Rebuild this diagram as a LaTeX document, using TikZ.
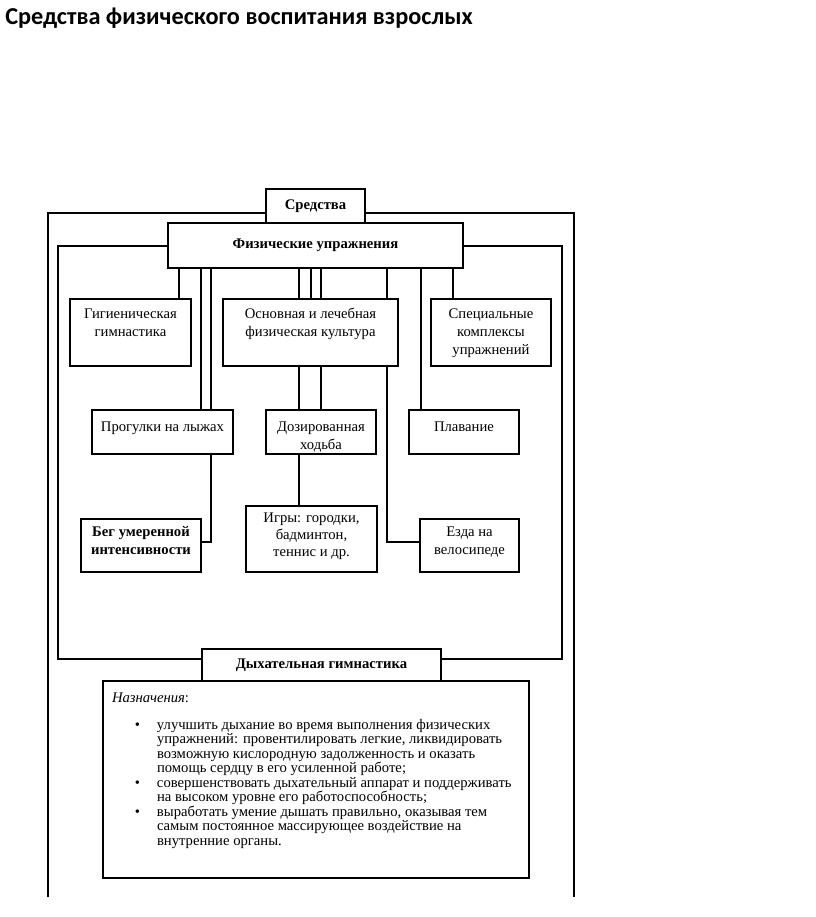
\documentclass[tikz,border=0pt]{standalone}
\usepackage{fontspec}
\setmainfont{Liberation Serif}
\newfontfamily\titlefont{Carlito}
\usetikzlibrary{calc}
\newlength\pxu
\setlength\pxu{0.75pt}
% box text: width, height (px), top gap, text
\newcommand{\bxtext}[4]{\parbox[c][#2\pxu][t]{#1\pxu}{\centering\vspace*{#3}\strut #4\par}}
\tikzset{
  box/.style={draw, line width=1pt, fill=white, inner sep=0pt, outer sep=0pt, anchor=north west,
              font=\fontsize{11}{13.5}\selectfont},
  headbox/.style={draw, line width=1pt, fill=white, inner sep=0pt, outer sep=0pt, anchor=north west,
              font=\fontsize{11}{13.5}\selectfont\bfseries},
  link/.style={line width=1pt},
}
\begin{document}
\begin{tikzpicture}[x=0.75pt,y=-0.75pt]
\path[fill=white] (0,0) rectangle (816,917);

% title
\node[anchor=base west, inner sep=0pt, font=\titlefont\fontsize{18.2}{21}\selectfont\bfseries] (title) at (5,25) {Средства физического воспитания взрослых};

% frame coordinates
\coordinate (oTL) at (48,213);
\coordinate (oTR) at (574,213);
\coordinate (oBL) at (48,897);
\coordinate (oBR) at (574,897);
\coordinate (iTL) at (58,246);
\coordinate (iTR) at (562,246);
\coordinate (iBL) at (58,659);
\coordinate (iBR) at (562,659);

% head boxes
\node[headbox, minimum width=99\pxu, minimum height=34\pxu] (sr) at (266,189) {Средства};
\node[headbox, minimum width=295\pxu, minimum height=45\pxu] (fu) at (168,223) {Физические упражнения};
\node[headbox, minimum width=239\pxu, minimum height=32\pxu] (dyh) at (202,649) {Дыхательная гимнастика};

% row 1
\node[box] (gig) at (70,299) {\bxtext{121}{67}{5pt}{Гигиеническая\\гимнастика}};
\node[box] (osn) at (223,299) {\bxtext{175}{67}{5pt}{Основная и лечебная\\физическая культура}};
\node[box] (spec) at (431,299) {\bxtext{120}{67}{5pt}{Специальные\\комплексы\\упражнений}};

% row 2
\node[box] (prog) at (92,410) {\bxtext{141}{44}{7pt}{Прогулки на лыжах}};
\node[box] (doz) at (266,410) {\bxtext{110}{44}{7pt}{Дозированная\\ходьба}};
\node[box] (plav) at (409,410) {\bxtext{110}{44}{7pt}{Плавание}};

% row 3
\node[box, font=\fontsize{11}{13.5}\selectfont\bfseries] (beg) at (81,519) {\bxtext{120}{53}{3.6pt}{Бег умеренной\\интенсивности}};
\node[box, font=\fontsize{11}{12.8}\selectfont] (igry) at (246,506) {\bxtext{131}{66}{3.6pt}{Игры: городки,\\бадминтон,\\теннис и др.}};
\node[box] (ezda) at (420,519) {\bxtext{99}{53}{3.6pt}{Езда на\\велосипеде}};

% purpose box
\node[box] (naz) at (103,681) {\parbox[c][197\pxu][t]{426\pxu}{\fontsize{11}{10.9}\selectfont\raggedright
\vspace*{8.2pt}\strut\hspace*{9\pxu}{\itshape Назначения}:\par
\vspace{8.4pt}
\leftskip=54\pxu
\noindent\llap{•\hspace{17\pxu}}улучшить дыхание во время выполнения физических\\
упражнений: провентилировать легкие, ликвидировать\\
возможную кислородную задолженность и оказать\\
помощь сердцу в его усиленной работе;\par
\noindent\llap{•\hspace{17\pxu}}совершенствовать дыхательный аппарат и поддерживать\\
на высоком уровне его работоспособность;\par
\noindent\llap{•\hspace{17\pxu}}выработать умение дышать правильно, оказывая тем\\
самым постоянное массирующее воздействие на\\
внутренние органы.\par}};

% frames
\draw[link] (sr.west |- oTL) -- (oTL) -- (oBL);
\draw[link] (sr.east |- oTR) -- (oTR) -- (oBR);
\draw[link] (fu.west |- iTL) -- (iTL) -- (iBL) -- (dyh.west |- iBL);
\draw[link] (fu.east |- iTR) -- (iTR) -- (iBR) -- (dyh.east |- iBR);

% connectors from Физические упражнения
\foreach \x/\t in {179/gig, 201/prog, 211/prog, 299/osn, 311/osn, 321/osn, 387/osn, 421/plav, 453/spec}{
  \coordinate (x\x) at (\x,0);
  \draw[link] (fu.south -| x\x) -- (\t.north -| x\x);
}
% from Основная to Дозированная
\draw[link] (osn.south -| x299) -- (doz.north -| x299);
\draw[link] (osn.south -| x321) -- (doz.north -| x321);
% from Дозированная to Игры
\draw[link] (doz.south -| x299) -- (igry.north -| x299);
% elbows
\coordinate (k1) at (211,542);
\coordinate (k2) at (387,542);
\draw[link] (prog.south -| k1) -- (k1) -- (k1 -| beg.east);
\draw[link] (osn.south -| k2) -- (k2) -- (k2 -| ezda.west);
\end{tikzpicture}
\end{document}
